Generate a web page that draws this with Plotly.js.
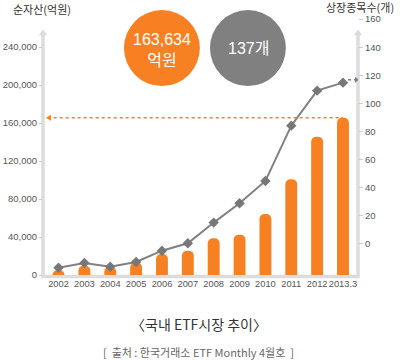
<!DOCTYPE html>
<html>
<head>
<meta charset="utf-8">
<script src="https://cdn.plot.ly/plotly-3.0.1.min.js"></script>
<style>html,body{margin:0;padding:0;background:#fff;}#chart{width:400px;height:362px;}</style>
</head>
<body>
<div id="chart"></div>
<script>
// Data
const years = ['2002','2003','2004','2005','2006','2007','2008','2009','2010','2011','2012','2013.3'];
const netAssets = [5300, 9800, 8700, 13000, 22100, 25600, 38600, 42400, 64200, 100700, 145600, 165500]; // 억원 (bars, left axis)
const listedCount = [-16.9, -13.5, -16.2, -12.8, -4.8, 0.5, 15.2, 29.0, 44.8, 84.2, 109.1, 114.8]; // 개 (line, right axis as drawn)
const leftTicks = [0, 40000, 80000, 120000, 160000, 200000, 240000];
const rightTicks = [0, 20, 40, 60, 80, 100, 120, 140, 160];
const totalAssetsLabel = '163,634<br>억원';
const totalCountLabel = '137개';

const ORANGE = '#f78122';
const GRAY = '#808080';
const AXIS = '#dcdcdc';
const NUMFONT = 'Liberation Sans, Arial, Noto Sans CJK KR, sans-serif';
const KRFONT = 'Noto Sans CJK KR, Liberation Sans, sans-serif';

const lastIdx = years.length - 1;

const traces = [
  {
    type: 'bar', x: years, y: netAssets, yaxis: 'y',
    width: 0.46,
    marker: {color: ORANGE, cornerradius: 6},
    hoverinfo: 'skip'
  },
  {
    type: 'scatter', mode: 'lines+markers', x: years, y: listedCount, yaxis: 'y2',
    line: {color: GRAY, width: 2},
    marker: {symbol: 'diamond', size: 8, color: '#777'},
    hoverinfo: 'skip'
  }
];

const shapes = [
  // axis lines
  {type: 'line', xref: 'paper', yref: 'paper', x0: 0, x1: 0, y0: -0.008, y1: 0.94, line: {color: AXIS, width: 3.5}, layer: 'below'},
  {type: 'line', xref: 'paper', yref: 'paper', x0: 1, x1: 1, y0: -0.008, y1: 0.94, line: {color: AXIS, width: 3.5}, layer: 'below'},
  {type: 'line', xref: 'paper', yref: 'paper', x0: -0.005, x1: 1.005, y0: -0.006, y1: -0.006, line: {color: AXIS, width: 3.5}, layer: 'below'},
  // axis arrow caps
  {type: 'path', xref: 'paper', yref: 'paper', path: 'M -0.014,0.937 L 0,0.959 L 0.014,0.937 Z', fillcolor: AXIS, line: {width: 0}},
  {type: 'path', xref: 'paper', yref: 'paper', path: 'M 0.986,0.937 L 1,0.959 L 1.014,0.937 Z', fillcolor: AXIS, line: {width: 0}},
  // summary circles
  {type: 'circle', xref: 'paper', yref: 'paper', x0: 0.257, x1: 0.498, y0: 0.738, y1: 1.035, fillcolor: ORANGE, line: {width: 0}},
  {type: 'circle', xref: 'paper', yref: 'paper', x0: 0.530, x1: 0.771, y0: 0.738, y1: 1.035, fillcolor: GRAY, line: {width: 0}},
  // orange dotted reference line at latest net assets
  {type: 'line', xref: 'x', yref: 'y', x0: -0.42, x1: lastIdx, y0: netAssets[lastIdx], y1: netAssets[lastIdx],
   line: {color: ORANGE, width: 1.5, dash: 'dot'}},
  {type: 'path', xref: 'paper', xsizemode: 'pixel', xanchor: 0, yref: 'y', ysizemode: 'pixel', yanchor: netAssets[lastIdx],
   path: 'M 3,0 L 8,3 L 8,-3 Z', fillcolor: ORANGE, line: {width: 0}},
  // gray dotted continuation arrow after last point
  {type: 'line', xref: 'x', xsizemode: 'pixel', xanchor: lastIdx, x0: 5, x1: 12, yref: 'y2', ysizemode: 'pixel', yanchor: listedCount[lastIdx], y0: 3, y1: 3,
   line: {color: GRAY, width: 1.5, dash: 'dot'}},
  {type: 'path', xref: 'x', xsizemode: 'pixel', xanchor: lastIdx, yref: 'y2', ysizemode: 'pixel', yanchor: listedCount[lastIdx],
   path: 'M 16,3 L 12,6 L 12,0 Z', fillcolor: GRAY, line: {width: 0}}
];

const annotations = [
  {xref: 'paper', yref: 'paper', x: 0.378, y: 0.879, text: totalAssetsLabel, showarrow: false,
   font: {family: NUMFONT, size: 16, color: '#fff'}, xanchor: 'center', yanchor: 'middle'},
  {xref: 'paper', yref: 'paper', x: 0.651, y: 0.883, text: totalCountLabel, showarrow: false,
   font: {family: NUMFONT, size: 16, color: '#fff'}, xanchor: 'center', yanchor: 'middle'},
  {xref: 'paper', yref: 'paper', x: -0.102, y: 1.04, text: '순자산(억원)', showarrow: false,
   font: {family: KRFONT, size: 11, color: '#333'}, xanchor: 'left', yanchor: 'middle'},
  {xref: 'paper', yref: 'paper', x: 1.121, y: 1.045, text: '상장종목수(개)', showarrow: false,
   font: {family: KRFONT, size: 11, color: '#333'}, xanchor: 'right', yanchor: 'middle'},
  {xref: 'paper', yref: 'paper', x: 0.495, y: -0.191, text: '〈국내 ETF시장 추이〉', showarrow: false,
   font: {family: KRFONT, size: 14, color: '#333'}, xanchor: 'center', yanchor: 'middle'},
  {xref: 'paper', yref: 'paper', x: 0.495, y: -0.301, text: '[  출처 : 한국거래소 ETF Monthly 4월호  ]', showarrow: false,
   font: {family: KRFONT, size: 11, color: '#666'}, xanchor: 'center', yanchor: 'middle'}
];

const layout = {
  width: 400, height: 362, autosize: false,
  margin: {l: 43, r: 42, t: 19, b: 87, pad: 0},
  paper_bgcolor: '#fff', plot_bgcolor: '#fff',
  showlegend: false,
  xaxis: {
    type: 'category', range: [-0.6, 11.58], showgrid: false, zeroline: false, showline: false,
    ticks: '', tickangle: 0, automargin: false, ticklabelstandoff: 2,
    tickfont: {family: NUMFONT, size: 9.3, color: '#555'}, fixedrange: true
  },
  yaxis: {
    range: [0, 269474], tickvals: leftTicks, tickformat: ',d', showgrid: false, zeroline: false, showline: false,
    ticks: 'outside', ticklen: 3, tickwidth: 1, tickcolor: '#ccc',
    tickfont: {family: NUMFONT, size: 9.5, color: '#555'}, fixedrange: true
  },
  yaxis2: {
    overlaying: 'y', side: 'right', range: [-22.1, 160.1], tickvals: rightTicks,
    showgrid: false, zeroline: false, showline: false,
    ticks: 'outside', ticklen: 4, tickwidth: 1, tickcolor: '#ccc',
    tickfont: {family: NUMFONT, size: 9.5, color: '#555'}, fixedrange: true
  },
  shapes: shapes,
  annotations: annotations
};

Plotly.newPlot('chart', traces, layout, {displayModeBar: false, staticPlot: true});
</script>
</body>
</html>
